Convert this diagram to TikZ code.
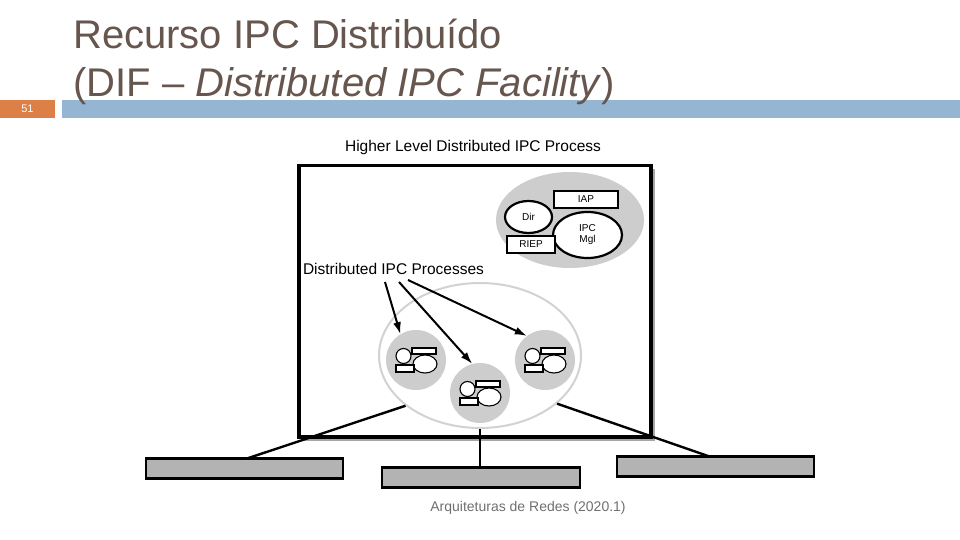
\documentclass[tikz,border=0pt]{standalone}
\usepackage{fontspec}
\setmainfont{Liberation Sans}
\usetikzlibrary{shapes.geometric,arrows.meta,calc}
\definecolor{slideorange}{HTML}{DD8047}
\definecolor{slideblue}{HTML}{94B6D2}
\definecolor{titlecol}{HTML}{66564E}
\definecolor{footcol}{HTML}{707070}
\definecolor{lightfill}{HTML}{CDCDCD}
\definecolor{ringgray}{HTML}{D2D2D2}
\definecolor{boxfill}{HTML}{B3B3B3}
\definecolor{shadowgray}{HTML}{A6A6A6}
\begin{document}
\begin{tikzpicture}[x=1pt,y=-1pt,
  titletext/.style={anchor=base west,inner sep=0pt,text=titlecol,font=\fontsize{40}{46}\selectfont},
  label/.style={inner sep=0pt,font=\fontsize{15.5}{18}\selectfont},
  small/.style={inner sep=0pt,font=\fontsize{10}{12}\selectfont},
  partbox/.style={rectangle,draw=black,line width=2.2pt,fill=white,inner sep=0pt,small},
  partell/.style={ellipse,draw=black,line width=2.2pt,fill=white,inner sep=0pt,small},
  proccircle/.style={circle,fill=lightfill,minimum size=60pt,inner sep=0pt},
  arrowline/.style={line width=2pt,-{Latex[length=12pt,width=8pt]}},
  linkline/.style={line width=2.4pt},
  lowbox/.style={rectangle,draw=black,line width=2.5pt,fill=boxfill,minimum width=197pt,minimum height=20pt,inner sep=0pt},
  miniproc/.pic={
    \draw[line width=1.1pt,fill=white] (-12.5,-4) circle [radius=7.5];
    \draw[line width=1.1pt,fill=white] (9,4) ellipse [x radius=12,y radius=9];
    \draw[line width=1.1pt,fill=white] (-4,-12) rectangle (20,-6);
    \draw[line width=1.1pt,fill=white] (-20,5) rectangle (-2,12);
  }
]
\useasboundingbox (0,0) rectangle (960,540);
\fill[white] (0,0) rectangle (960,540);

% header
\node[fill=slideorange,minimum width=55pt,minimum height=18pt,inner sep=0pt,
      text=white,font=\fontsize{11}{12}\selectfont] (num) at (27.5,109) {51};
\node[fill=slideblue,minimum width=898pt,minimum height=18pt,inner sep=0pt,anchor=north west] (bar) at (62,100) {};
\node[titletext] (t1) at (73,49) {Recurso IPC Distribuído};
\node[titletext] (t2) at (73,97) {(DIF – \textit{Distributed IPC Facility})};

% frame with shadow
\node[fill=shadowgray,minimum width=353pt,minimum height=272pt,inner sep=0pt,anchor=north west] (shadow) at (302,169) {};
\node[draw=black,line width=3.5pt,fill=white,minimum width=352pt,minimum height=271pt,inner sep=0pt,anchor=north west] (frame) at (297,164) {};

\node[label] (hl) at (473,147) {Higher Level Distributed IPC Process};

% higher level process
\node[ellipse,fill=lightfill,minimum width=148pt,minimum height=96pt,inner sep=0pt] (hlp) at (570,220) {};
\node[partell,minimum width=47pt,minimum height=32pt] (dir) at (528.5,217) {Dir};
\node[partell,minimum width=69pt,minimum height=46pt,align=center] (mgl) at (587.5,235) {IPC\\[-1pt]Mgl};
\node[partbox,minimum width=64pt,minimum height=17pt] (iap) at (586,199.5) {IAP};
\node[partbox,minimum width=48pt,minimum height=17pt] (riep) at (531,244.5) {RIEP};

% distributed processes
\node[label] (dip) at (393.5,269) {Distributed IPC Processes};
\node[ellipse,draw=ringgray,line width=2pt,minimum width=202pt,minimum height=145pt,inner sep=0pt] (big) at (480,355.5) {};
\node[proccircle] (cl) at (416,360) {};
\node[proccircle] (cm) at (480,393) {};
\node[proccircle] (cr) at (545,360) {};
\pic at (cl) {miniproc};
\pic at (cm) {miniproc};
\pic at (cr) {miniproc};

\coordinate (a1) at (385,282);
\coordinate (a2) at (399,282);
\coordinate (a3) at (408,280);
\draw[arrowline] (a1) -- (cl.121);
\draw[arrowline] (a2) -- (cm.105);
\draw[arrowline] (a3) -- (cr.127);

% links to lower boxes
\coordinate (lend) at (247,458.5);
\coordinate (mend) at (481,467.5);
\coordinate (rend) at (709.5,456.5);
\draw[linkline] (big.214) -- (lend);
\draw[linkline] (big.south) -- (big.south |- mend);
\draw[linkline] (big.328) -- (rend);

% lower boxes
\node[lowbox] (lbox) at (244.5,468.5) {};
\node[lowbox,minimum width=198pt] (mbox) at (481,477.5) {};
\node[lowbox] (rbox) at (715.5,466.5) {};

\node[inner sep=0pt,text=footcol,font=\fontsize{14}{16}\selectfont] (foot) at (528,508) {Arquiteturas de Redes (2020.1)};
\end{tikzpicture}
\end{document}
